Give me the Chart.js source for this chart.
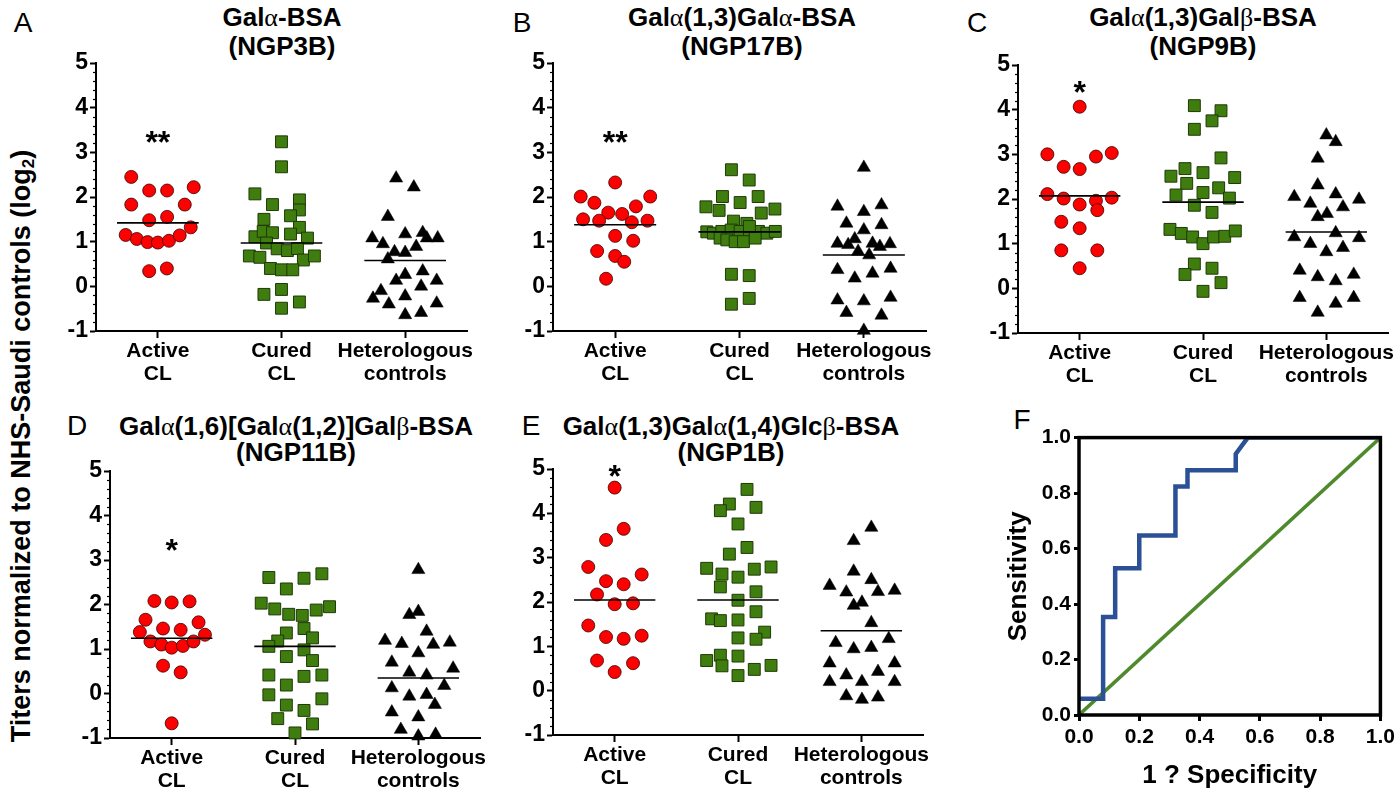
<!DOCTYPE html>
<html>
<head>
<meta charset="utf-8">
<script src="https://cdn.jsdelivr.net/npm/chart.js@4.4.0/dist/chart.umd.min.js"></script>
<style>
  html, body { margin: 0; padding: 0; background: #fff; }
  body { width: 1400px; height: 793px; position: relative; overflow: hidden;
         font-family: 'Liberation Sans', Arial, sans-serif; color: #000; }
  canvas { position: absolute; }
  .txt { position: absolute; transform: translate(-50%, -50%); white-space: nowrap; line-height: 1; }
  .title { font-weight: bold; font-size: 26px; }
  .gr { font-family: 'Liberation Serif', 'DejaVu Serif', serif; font-weight: normal; }
  .letter { font-size: 28px; font-weight: normal; }
  .ylab { font-weight: bold; font-size: 27px; transform: translate(-50%, -50%) rotate(-90deg); }
  .ylab sub { font-size: 17px; vertical-align: -4px; }
</style>
</head>
<body>
<script>
// ---- data ----
// each point: [horizontal jitter within its column, log2 titer]
const groupLabels = [['Active', 'CL'], ['Cured', 'CL'], ['Heterologous', 'controls']];
const yTicks = [-1, 0, 1, 2, 3, 4, 5];

const aActive = [[-0.215,2.45],[-0.07,2.145],[0.075,2.145],[0.29,2.22],[-0.215,1.83],[0.218,1.83],[-0.07,1.48],[0.075,1.555],[-0.26,1.15],[-0.17,1.06],[-0.083,0.99],[0,0.98],[0.09,1.02],[0.177,1.14],[0.266,1.32],[-0.07,0.34],[0.073,0.40]];
const aCured = [[0,3.236],[0,2.676],[-0.215,2.07],[-0.073,1.83],[0.145,1.935],[0.145,1.71],[-0.142,1.50],[0.073,1.58],[0.145,1.32],[-0.215,1.11],[-0.148,1.23],[-0.073,1.20],[0.073,1.17],[0.21,1.08],[-0.121,0.97],[-0.035,0.84],[0.048,0.80],[0.129,0.845],[-0.26,0.68],[-0.175,0.65],[0.177,0.59],[0.266,0.68],[-0.089,0.40],[0,0.37],[0.091,0.37],[-0.142,-0.18],[0,-0.07],[0.145,-0.35],[0,-0.49]];
const aHetero = [[-0.073,2.42],[0.07,2.22],[-0.14,1.56],[-0.266,1.08],[-0.18,0.95],[0,1.17],[0.142,1.20],[0.175,1.08],[0.263,1.08],[-0.086,0.77],[0,0.755],[0.089,0.89],[-0.14,0.61],[-0.073,0.13],[0,0.26],[0.142,0.34],[0.255,0.13],[-0.196,-0.10],[0.129,0.0],[-0.26,-0.27],[-0.132,-0.40],[0,-0.22],[0.255,-0.38],[0,-0.64],[0.129,-0.59]];
const aMeans = [1.42, 0.97, 0.58];

const bActive = [[0,2.325],[-0.277,2.01],[0.282,2.01],[-0.167,1.87],[0.167,1.79],[-0.056,1.65],[0.056,1.62],[-0.258,1.50],[-0.129,1.47],[0.134,1.435],[0.26,1.47],[0,1.13],[0.145,1.02],[-0.145,0.79],[0,0.68],[0.073,0.55],[-0.073,0.17]];
const bCured = [[-0.065,2.61],[0.078,2.38],[-0.137,2.01],[0.15,2.01],[0.005,1.876],[-0.27,1.78],[-0.164,1.70],[0.175,1.64],[0.285,1.73],[-0.048,1.46],[0.059,1.41],[-0.263,1.22],[-0.21,1.19],[-0.142,1.23],[-0.067,1.26],[0.005,1.23],[0.08,1.26],[0.153,1.23],[0.22,1.19],[0.288,1.23],[-0.156,1.08],[-0.102,1.04],[-0.035,1.0],[0.032,1.0],[0.126,1.08],[0.08,1.34],[-0.065,0.27],[0.078,0.24],[-0.065,-0.40],[0.078,-0.27]];
const bHetero = [[0,2.66],[-0.212,1.79],[0.142,1.82],[0,1.67],[-0.14,1.41],[0.142,1.375],[0,1.26],[-0.212,0.96],[-0.126,0.93],[-0.073,1.06],[0.07,0.96],[0.129,0.89],[0.21,0.95],[-0.046,0.78],[0.043,0.70],[-0.212,0.37],[-0.073,0.18],[0.07,0.29],[0.215,0.40],[-0.212,-0.31],[0,-0.33],[0.215,-0.25],[-0.14,-0.59],[0.142,-0.65],[0,-0.99]];
const bMeans = [1.38, 1.22, 0.70];

const cActive = [[0,4.066],[-0.262,3.0],[0.132,2.95],[0.26,3.03],[-0.13,2.72],[0,2.67],[-0.262,2.11],[-0.13,2.01],[0,1.876],[0.132,1.96],[0.26,2.03],[0.143,1.75],[-0.149,1.49],[0,1.345],[-0.149,0.85],[0.143,0.85],[0,0.45]];
const cCured = [[-0.07,4.09],[0.146,3.976],[0.073,3.75],[-0.07,3.56],[0.146,2.92],[-0.26,2.51],[-0.146,2.68],[0,2.59],[0.257,2.48],[-0.132,2.35],[0.127,2.25],[-0.219,2.09],[0,2.145],[0.214,2.02],[-0.07,1.86],[0.073,1.70],[-0.268,1.32],[-0.176,1.23],[-0.084,1.15],[0,1.0],[0.086,1.15],[0.176,1.165],[0.262,1.285],[-0.07,0.545],[-0.146,0.31],[0.073,0.45],[0.146,0.127],[0,-0.067]];
const cHetero = [[0,3.43],[0.076,3.28],[-0.07,2.91],[-0.07,2.31],[-0.26,2.05],[0.076,2.11],[0.265,1.99],[-0.13,1.90],[0.135,1.82],[-0.07,1.60],[0.005,1.67],[-0.26,1.15],[0.076,1.24],[0.265,1.13],[-0.13,1.0],[0.135,0.91],[0,0.815],[-0.216,0.40],[-0.07,0.255],[0.076,0.165],[0.222,0.31],[-0.216,-0.21],[0.076,-0.34],[0.222,-0.21],[-0.07,-0.54]];
const cMeans = [2.07, 1.93, 1.26];

const dActive = [[-0.14,2.08],[0,2.045],[0.145,2.07],[-0.212,1.657],[0.218,1.60],[-0.07,1.46],[0.073,1.43],[-0.258,1.38],[0.27,1.32],[-0.172,1.17],[-0.083,1.10],[0,1.03],[0.091,1.07],[0.177,1.17],[-0.07,0.625],[0.073,0.475],[0,-0.67]];
const dCured = [[-0.212,2.607],[0.218,2.69],[0.073,2.59],[-0.07,2.35],[-0.274,2.03],[-0.164,1.90],[-0.051,1.78],[0.059,1.755],[0.172,1.875],[0.28,1.95],[0.073,1.46],[-0.07,1.36],[-0.14,1.18],[-0.212,1.06],[0.142,1.25],[0.073,0.98],[-0.07,0.83],[0.142,0.74],[-0.212,0.415],[0.073,0.385],[0.218,0.415],[-0.07,0.19],[-0.212,-0.03],[0.218,-0.12],[-0.07,-0.26],[0.073,-0.38],[-0.14,-0.565],[0.142,-0.684],[0,-0.886]];
const dHetero = [[0,2.78],[-0.073,1.77],[0,1.84],[0.067,1.395],[-0.27,1.19],[-0.134,1.12],[0.121,1.10],[0.255,1.15],[0,0.91],[-0.215,0.70],[0.282,0.565],[-0.073,0.475],[0.067,0.41],[-0.215,0.123],[0.21,0.176],[-0.073,-0.064],[0.067,-0.026],[0.134,-0.25],[-0.215,-0.42],[0,-0.53],[-0.142,-0.81],[0,-0.96],[0.14,-0.92]];
const dMeans = [1.24, 1.06, 0.35];

const eActive = [[0,4.58],[0.073,3.65],[-0.07,3.40],[-0.214,2.79],[0.219,2.62],[-0.07,2.47],[0.073,2.40],[-0.143,2.17],[0,1.95],[0.149,1.97],[-0.214,1.47],[-0.07,1.21],[0.073,1.17],[0.219,1.24],[-0.143,0.68],[0.149,0.62],[0,0.42]];
const eCured = [[0.073,4.54],[-0.07,4.21],[-0.143,4.06],[0.146,4.135],[0,3.76],[0.073,3.23],[-0.07,3.08],[-0.254,2.76],[-0.13,2.63],[0,2.56],[0.132,2.74],[0.268,2.79],[-0.143,2.34],[0.146,2.23],[0,2.04],[0.146,1.78],[-0.214,1.62],[-0.143,1.58],[0,1.595],[0.216,1.32],[0,1.19],[0.146,1.16],[-0.254,0.68],[-0.143,0.80],[-0.13,0.56],[0,0.78],[0.132,0.48],[0.268,0.57],[0,0.34]];
const eHetero = [[0.081,3.68],[-0.062,3.38],[-0.062,2.69],[0.081,2.50],[-0.257,2.37],[-0.122,2.22],[0.135,2.23],[0.27,2.26],[-0.062,1.92],[0.005,1.99],[0.081,1.53],[0.222,1.17],[-0.208,1.08],[-0.062,0.94],[0.081,0.97],[-0.257,0.62],[0.27,0.62],[-0.122,0.35],[0.135,0.43],[-0.257,0.20],[0.005,0.20],[0.27,0.20],[-0.122,-0.12],[0.005,-0.20],[0.135,-0.15]];
const eMeans = [2.045, 2.045, 1.35];

const starMarks = ['**', '**', '*', '*', '*'];
const starValues = [3.39, 3.39, 4.55, 3.38, 5.0];

// ROC (panel F)
const rocFpr  = [0, 0.08, 0.08, 0.12, 0.12, 0.20, 0.20, 0.32, 0.32, 0.36, 0.36, 0.52, 0.52, 0.56, 1.0];
const rocSens = [0.059, 0.059, 0.353, 0.353, 0.529, 0.529, 0.647, 0.647, 0.824, 0.824, 0.882, 0.882, 0.941, 1.0, 1.0];
const chanceLine = [0, 1];
const rocTicks = [0, 0.2, 0.4, 0.6, 0.8, 1.0];

// ---- layout / style ----
const FONT = "'Liberation Sans', Arial, sans-serif";

function addText(html, x, y, cls) {
    const d = document.createElement('div');
    d.className = 'txt ' + cls;
    d.innerHTML = html;
    d.style.left = x + 'px';
    d.style.top = y + 'px';
    document.body.appendChild(d);
}

function addCanvas(left, top, w, h) {
    const c = document.createElement('canvas');
    c.width = w; c.height = h;
    c.style.left = left + 'px';
    c.style.top = top + 'px';
    document.body.appendChild(c);
    return c;
}

const toPoints = (pairs, g) => pairs.map(p => ({ x: g + p[0], y: p[1] }));

// minor ticks + significance stars
const dotExtras = {
    id: 'dotExtras',
    afterDatasetsDraw(chart, args, opts) {
        const ctx = chart.ctx;
        const y = chart.scales.y, x = chart.scales.x;
        const left = chart.chartArea.left;
        ctx.save();
        ctx.strokeStyle = '#000';
        ctx.lineWidth = 1.2;
        for (let k = 0; k <= 30; k++) {
            if (k % 5 === 0) continue;
            const py = Math.round(y.getPixelForValue(-1 + k * 0.2)) + 0.5;
            ctx.beginPath();
            ctx.moveTo(left - 3, py);
            ctx.lineTo(left, py);
            ctx.stroke();
        }
        ctx.fillStyle = '#000';
        ctx.font = 'bold 32px ' + FONT;
        ctx.textAlign = 'center';
        ctx.textBaseline = 'alphabetic';
        ctx.fillText(opts.mark, x.getPixelForValue(1), y.getPixelForValue(opts.value) + 18);
        ctx.restore();
    }
};

function dotPanel(area, groups, means, star) {
    const padL = 56, padT = 16, padR = 24, padB = 62;
    const canvas = addCanvas(area.L - padL, area.T - padT,
        area.R - area.L + padL + padR, area.B - area.T + padT + padB);
    const styles = [
        { pointStyle: 'circle', radius: 6.5, bg: '#ff0000', border: '#3a0000', bw: 0.8 },
        { pointStyle: 'rect', radius: 8.4, bg: '#3f7d0e', border: '#1e3a07', bw: 1 },
        { pointStyle: 'triangle', radius: 7.6, bg: '#000000', border: '#000000', bw: 0.5 }
    ];
    const datasets = [];
    means.forEach((m, i) => {
        datasets.push({
            type: 'line', order: 0,
            data: [{ x: i + 1 - 0.33, y: m }, { x: i + 1 + 0.33, y: m }],
            borderColor: '#000', borderWidth: 1.6, pointRadius: 0, fill: false
        });
    });
    groups.forEach((g, i) => {
        const s = styles[i];
        datasets.push({
            type: 'scatter', order: 1, clip: false,
            data: toPoints(g, i + 1),
            pointStyle: s.pointStyle, pointRadius: s.radius, pointHoverRadius: s.radius,
            backgroundColor: s.bg, borderColor: s.border, borderWidth: s.bw
        });
    });
    new Chart(canvas.getContext('2d'), {
        type: 'scatter',
        data: { datasets },
        options: {
            responsive: false, animation: false, events: [],
            layout: { padding: { left: 0, top: padT, right: padR, bottom: 0 } },
            plugins: { legend: { display: false }, tooltip: { enabled: false }, dotExtras: star },
            scales: {
                x: {
                    type: 'linear', min: 0.5, max: 3.5,
                    afterBuildTicks: s => { s.ticks = [1, 2, 3].map(v => ({ value: v })); },
                    afterFit: s => { s.height = padB; },
                    ticks: {
                        callback: v => groupLabels[Math.round(v) - 1],
                        color: '#000', padding: 2, maxRotation: 0, autoSkip: false,
                        font: { family: FONT, weight: 'bold', size: 21, lineHeight: 1.1 }
                    },
                    grid: { drawOnChartArea: false, tickLength: 7, tickWidth: 2, tickColor: '#000' },
                    border: { color: '#000', width: 2 }
                },
                y: {
                    type: 'linear', min: -1, max: 5,
                    afterBuildTicks: s => { s.ticks = yTicks.map(v => ({ value: v })); },
                    afterFit: s => { s.width = padL; },
                    ticks: { color: '#000', padding: 2, font: { family: FONT, weight: 'bold', size: 23 } },
                    grid: { drawOnChartArea: false, tickLength: 6, tickWidth: 2, tickColor: '#000' },
                    border: { color: '#000', width: 2 }
                }
            }
        },
        plugins: [dotExtras]
    });
}

// frame around the ROC plot
const rocFrame = {
    id: 'rocFrame',
    afterDatasetsDraw(chart) {
        const { left, top, right, bottom } = chart.chartArea;
        const ctx = chart.ctx;
        ctx.save();
        ctx.strokeStyle = '#000';
        ctx.lineWidth = 3.5;
        ctx.strokeRect(left, top, right - left, bottom - top);
        ctx.restore();
    }
};

function rocPanel(area) {
    const padL = 80, padT = 15, padR = 18, padB = 78;
    const canvas = addCanvas(area.L - padL, area.T - padT,
        area.R - area.L + padL + padR, area.B - area.T + padT + padB);
    const tickFont = { family: FONT, weight: 'bold', size: 21 };
    const titleFont = { family: FONT, weight: 'bold', size: 26 };
    new Chart(canvas.getContext('2d'), {
        type: 'line',
        data: {
            datasets: [
                {
                    data: rocFpr.map((f, i) => ({ x: f, y: rocSens[i] })),
                    borderColor: '#2c5096', borderWidth: 4.5, pointRadius: 0, fill: false,
                    borderJoinStyle: 'miter', order: 0
                },
                {
                    data: chanceLine.map(v => ({ x: v, y: v })),
                    borderColor: '#4e8a2c', borderWidth: 3.5, pointRadius: 0, fill: false, order: 1
                }
            ]
        },
        options: {
            responsive: false, animation: false, events: [],
            layout: { padding: { left: 0, top: padT, right: padR, bottom: 0 } },
            plugins: { legend: { display: false }, tooltip: { enabled: false } },
            scales: {
                x: {
                    type: 'linear', min: 0, max: 1,
                    afterBuildTicks: s => { s.ticks = rocTicks.map(v => ({ value: v })); },
                    afterFit: s => { s.height = padB; },
                    ticks: { callback: v => v.toFixed(1), color: '#000', padding: 4, maxRotation: 0, font: tickFont },
                    grid: { drawOnChartArea: false, tickLength: 6, tickWidth: 3, tickColor: '#000' },
                    border: { display: false },
                    title: { display: true, text: '1 ? Specificity', color: '#000', font: titleFont, padding: { top: 0, bottom: 2 } }
                },
                y: {
                    type: 'linear', min: 0, max: 1,
                    afterBuildTicks: s => { s.ticks = rocTicks.map(v => ({ value: v })); },
                    afterFit: s => { s.width = padL; },
                    ticks: { callback: v => v.toFixed(1), color: '#000', padding: 3, font: tickFont },
                    grid: { drawOnChartArea: false, tickLength: 5, tickWidth: 3, tickColor: '#000' },
                    border: { display: false },
                    title: { display: true, text: 'Sensitivity', color: '#000', font: titleFont, padding: { top: 4, bottom: 0 } }
                }
            }
        },
        plugins: [rocFrame]
    });
}

// ---- text ----
addText('Titers normalized to NHS-Saudi controls (log<sub>2</sub>)', 22, 446, 'ylab');

addText('A', 23, 23, 'letter');
addText('B', 522, 23, 'letter');
addText('C', 977, 23, 'letter');
addText('D', 77, 426, 'letter');
addText('E', 531, 426, 'letter');
addText('F', 1022, 420, 'letter');

addText('Gal<span class="gr">α</span>-BSA', 282, 17, 'title');
addText('(NGP3B)', 282, 46, 'title');
addText('Gal<span class="gr">α</span>(1,3)Gal<span class="gr">α</span>-BSA', 742, 17, 'title');
addText('(NGP17B)', 742, 46, 'title');
addText('Gal<span class="gr">α</span>(1,3)Gal<span class="gr">β</span>-BSA', 1203, 17, 'title');
addText('(NGP9B)', 1203, 46, 'title');
addText('Gal<span class="gr">α</span>(1,6)[Gal<span class="gr">α</span>(1,2)]Gal<span class="gr">β</span>-BSA', 296, 426, 'title');
addText('(NGP11B)', 296, 452, 'title');
addText('Gal<span class="gr">α</span>(1,3)Gal<span class="gr">α</span>(1,4)Glc<span class="gr">β</span>-BSA', 731, 426, 'title');
addText('(NGP1B)', 731, 452, 'title');

// ---- charts ----
dotPanel({ L: 96, R: 467, T: 63, B: 331 }, [aActive, aCured, aHetero], aMeans, { mark: starMarks[0], value: starValues[0] });
dotPanel({ L: 553, R: 926, T: 63, B: 331 }, [bActive, bCured, bHetero], bMeans, { mark: starMarks[1], value: starValues[1] });
dotPanel({ L: 1018, R: 1388, T: 65, B: 333 }, [cActive, cCured, cHetero], cMeans, { mark: starMarks[2], value: starValues[2] });
dotPanel({ L: 110, R: 480, T: 471, B: 738 }, [dActive, dCured, dHetero], dMeans, { mark: starMarks[3], value: starValues[3] });
dotPanel({ L: 553, R: 923, T: 469, B: 735 }, [eActive, eCured, eHetero], eMeans, { mark: starMarks[4], value: starValues[4] });
rocPanel({ L: 1079, R: 1381, T: 437, B: 715 });
</script>
</body>
</html>
